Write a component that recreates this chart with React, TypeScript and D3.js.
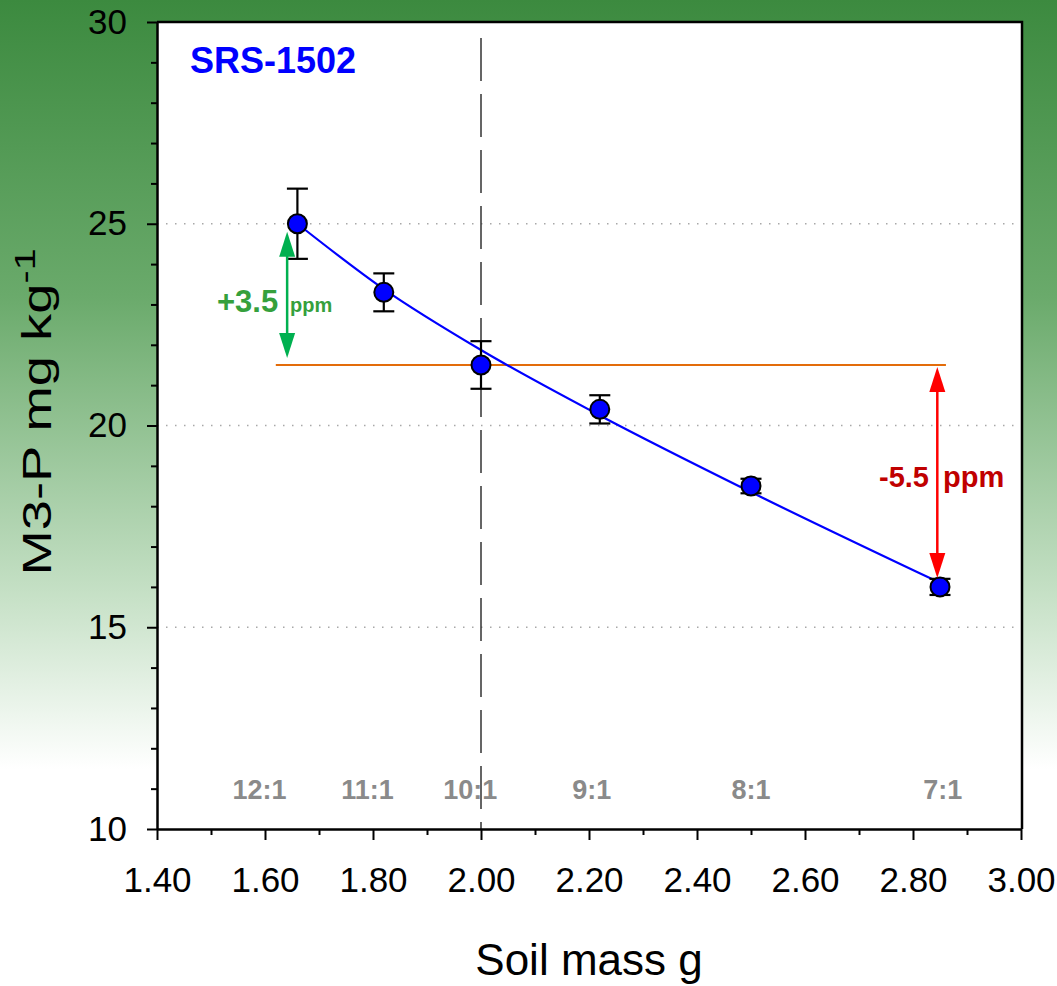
import { useEffect, useRef } from "react";
import * as d3 from "d3";

// measured data
const soilMass = [1.66, 1.82, 2.0, 2.22, 2.5, 2.85];
const m3p = [25.0, 23.3, 21.5, 20.4, 18.5, 16.0];
const m3pErr = [0.87, 0.47, 0.59, 0.35, 0.18, 0.2];

// fitted curve, read at the sample positions
const fitY = [25.0, 23.38, 21.87, 20.25, 18.35, 16.1];

// soil:solution ratio labels
const ratioLabels = ["12:1", "11:1", "10:1", "9:1", "8:1", "7:1"];
const ratioX = [1.59, 1.79, 1.98, 2.205, 2.5, 2.855];
const ratioY = 10.74;

const xTicks = [1.4, 1.6, 1.8, 2.0, 2.2, 2.4, 2.6, 2.8, 3.0];
const xMinor = [1.5, 1.7, 1.9, 2.1, 2.3, 2.5, 2.7, 2.9];
const yTicks = [10, 15, 20, 25, 30];
const yMinor = d3.range(11, 30).filter((v) => v % 5 !== 0);
const yGrid = [15, 20, 25];

// reference level at 10:1 and the two differences
const refLevel = 21.5;
const refFrom = 1.62;
const refTo = 2.861;
const gainArrow = { x: 1.641, y1: 21.67, y2: 24.8 };
const lossArrow = { x: 2.845, y1: 16.22, y2: 21.45 };

const W = 1057;
const H = 986;
const FONT = "'Liberation Sans', Arial, Helvetica, sans-serif";

export default function App() {
  const svgRef = useRef(null);

  useEffect(() => {
    const svg = d3.select(svgRef.current);
    svg.selectAll("*").remove();

    const left = 157, right = 1021, top = 22, bottom = 829;

    const x = d3.scaleLinear().domain([1.4, 3.0]).range([left, right]);
    const y = d3.scaleLinear().domain([10, 30]).range([bottom, top]);

    // background gradient
    const defs = svg.append("defs");
    const bg = defs.append("linearGradient")
      .attr("id", "bg")
      .attr("x1", 0).attr("y1", 0).attr("x2", 0).attr("y2", 1);
    bg.append("stop").attr("offset", "0%").attr("stop-color", "#3c8a3f");
    bg.append("stop").attr("offset", "30%").attr("stop-color", "#6aaa6b");
    bg.append("stop").attr("offset", "60%").attr("stop-color", "#c5e0c5");
    bg.append("stop").attr("offset", "78%").attr("stop-color", "#ffffff");
    bg.append("stop").attr("offset", "100%").attr("stop-color", "#ffffff");

    svg.append("rect")
      .attr("width", W).attr("height", H)
      .attr("fill", "url(#bg)");

    // plot area
    svg.append("rect")
      .attr("x", left).attr("y", top)
      .attr("width", right - left).attr("height", bottom - top)
      .attr("fill", "#fff");

    // grid lines
    svg.append("g")
      .selectAll("line")
      .data(yGrid)
      .join("line")
      .attr("x1", left).attr("x2", right)
      .attr("y1", (d) => y(d)).attr("y2", (d) => y(d))
      .attr("stroke", "#a8a8a8")
      .attr("stroke-width", 1.5)
      .attr("stroke-dasharray", "1.5,7.5");

    // vertical dashed line at 2.00 g
    svg.append("line")
      .attr("x1", x(2.0)).attr("x2", x(2.0))
      .attr("y1", top + 16).attr("y2", bottom)
      .attr("stroke", "#333")
      .attr("stroke-width", 1.5)
      .attr("stroke-dasharray", "43,13");

    // frame top/right
    svg.append("path")
      .attr("d", `M${left},${top}H${right + 1}V${bottom}`)
      .attr("fill", "none")
      .attr("stroke", "#000")
      .attr("stroke-width", 2.5);

    // ratio labels
    svg.append("g")
      .selectAll("text")
      .data(ratioLabels)
      .join("text")
      .attr("x", (d, i) => x(ratioX[i]))
      .attr("y", y(ratioY))
      .attr("text-anchor", "middle")
      .attr("font-family", FONT)
      .attr("font-weight", "bold")
      .attr("font-size", 27)
      .attr("fill", "#8a8a8a")
      .text((d) => d);

    // reference line
    svg.append("line")
      .attr("x1", x(refFrom)).attr("x2", x(refTo))
      .attr("y1", y(refLevel)).attr("y2", y(refLevel))
      .attr("stroke", "#e36c0a")
      .attr("stroke-width", 2);

    // fit curve
    const line = d3.line()
      .x((d, i) => x(soilMass[i]))
      .y((d) => y(d))
      .curve(d3.curveMonotoneX);

    svg.append("path")
      .datum(fitY)
      .attr("d", line)
      .attr("fill", "none")
      .attr("stroke", "#0000ff")
      .attr("stroke-width", 2.2);

    // error bars
    const eb = svg.append("g")
      .attr("stroke", "#000")
      .attr("stroke-width", 2.2);
    soilMass.forEach((sm, i) => {
      const cx = x(sm);
      const y0 = y(m3p[i] - m3pErr[i]);
      const y1 = y(m3p[i] + m3pErr[i]);
      eb.append("line").attr("x1", cx).attr("x2", cx).attr("y1", y0).attr("y2", y1);
      eb.append("line").attr("x1", cx - 10.5).attr("x2", cx + 10.5).attr("y1", y0).attr("y2", y0);
      eb.append("line").attr("x1", cx - 10.5).attr("x2", cx + 10.5).attr("y1", y1).attr("y2", y1);
    });

    // points
    svg.append("g")
      .selectAll("circle")
      .data(m3p)
      .join("circle")
      .attr("cx", (d, i) => x(soilMass[i]))
      .attr("cy", (d) => y(d))
      .attr("r", 9.5)
      .attr("fill", "#0000ff")
      .attr("stroke", "#000")
      .attr("stroke-width", 2);

    // double-headed arrows
    const arrow = (a, color) => {
      const ax = x(a.x);
      const yb = y(a.y1);
      const yt = y(a.y2);
      const hl = 25, hw = 8;
      svg.append("line")
        .attr("x1", ax).attr("x2", ax)
        .attr("y1", yt + hl - 2).attr("y2", yb - hl + 2)
        .attr("stroke", color)
        .attr("stroke-width", 2.5);
      svg.append("path")
        .attr("d", `M${ax},${yt}L${ax - hw},${yt + hl}L${ax + hw},${yt + hl}Z`)
        .attr("fill", color);
      svg.append("path")
        .attr("d", `M${ax},${yb}L${ax - hw},${yb - hl}L${ax + hw},${yb - hl}Z`)
        .attr("fill", color);
    };
    arrow(gainArrow, "#00b050");
    arrow(lossArrow, "#ff0000");

    // arrow labels
    const gain = svg.append("text")
      .attr("x", 217).attr("y", 312)
      .attr("font-family", FONT)
      .attr("font-weight", "bold")
      .attr("fill", "#35a03c");
    gain.append("tspan").attr("font-size", 31).text("+3.5");
    gain.append("tspan").attr("x", 290).attr("font-size", 20).text("ppm");

    const loss = svg.append("text")
      .attr("y", 487)
      .attr("font-family", FONT)
      .attr("font-weight", "bold")
      .attr("fill", "#c00000");
    loss.append("tspan").attr("x", 879).attr("font-size", 29).text("-5.5");
    loss.append("tspan").attr("x", 943).attr("font-size", 29).text("ppm");

    // title
    svg.append("text")
      .attr("x", 190).attr("y", 73)
      .attr("font-family", FONT)
      .attr("font-weight", "bold")
      .attr("font-size", 36)
      .attr("fill", "#0000ff")
      .text("SRS-1502");

    // axes
    const styleAxis = (g) => {
      g.selectAll("line").attr("stroke", "#000").attr("stroke-width", 2);
      g.select(".domain").attr("stroke", "#000").attr("stroke-width", 2.5);
      g.selectAll("text")
        .attr("font-family", FONT)
        .attr("font-size", 35)
        .attr("fill", "#000");
    };

    svg.append("g")
      .attr("transform", `translate(0,${bottom})`)
      .call(d3.axisBottom(x).tickValues(xMinor).tickSize(6).tickFormat(() => ""))
      .call((g) => g.select(".domain").remove())
      .call(styleAxis);
    svg.append("g")
      .attr("transform", `translate(${left},0)`)
      .call(d3.axisLeft(y).tickValues(yMinor).tickSize(6).tickFormat(() => ""))
      .call((g) => g.select(".domain").remove())
      .call(styleAxis);

    svg.append("g")
      .attr("transform", `translate(0,${bottom})`)
      .call(d3.axisBottom(x).tickValues(xTicks).tickSize(11).tickSizeOuter(0)
        .tickPadding(27).tickFormat(d3.format(".2f")))
      .call(styleAxis);
    svg.append("g")
      .attr("transform", `translate(${left},0)`)
      .call(d3.axisLeft(y).tickValues(yTicks).tickSize(10).tickSizeOuter(0)
        .tickPadding(20).tickFormat(d3.format("d")))
      .call(styleAxis);

    // axis titles
    svg.append("text")
      .attr("x", 589).attr("y", 975)
      .attr("text-anchor", "middle")
      .attr("font-family", FONT)
      .attr("font-size", 44)
      .attr("fill", "#000")
      .text("Soil mass g");

    const yt = svg.append("text")
      .attr("transform", "translate(51,412) rotate(-90) scale(1.36,1)")
      .attr("text-anchor", "middle")
      .attr("font-family", FONT)
      .attr("font-size", 40)
      .attr("fill", "#000");
    yt.append("tspan").text("M3-P mg kg");
    yt.append("tspan").attr("font-size", 29).attr("dy", -16).text("-1");
  }, []);

  return (
    <svg
      ref={svgRef}
      width={W}
      height={H}
      style={{ position: "absolute", left: 0, top: 0, display: "block" }}
    />
  );
}
